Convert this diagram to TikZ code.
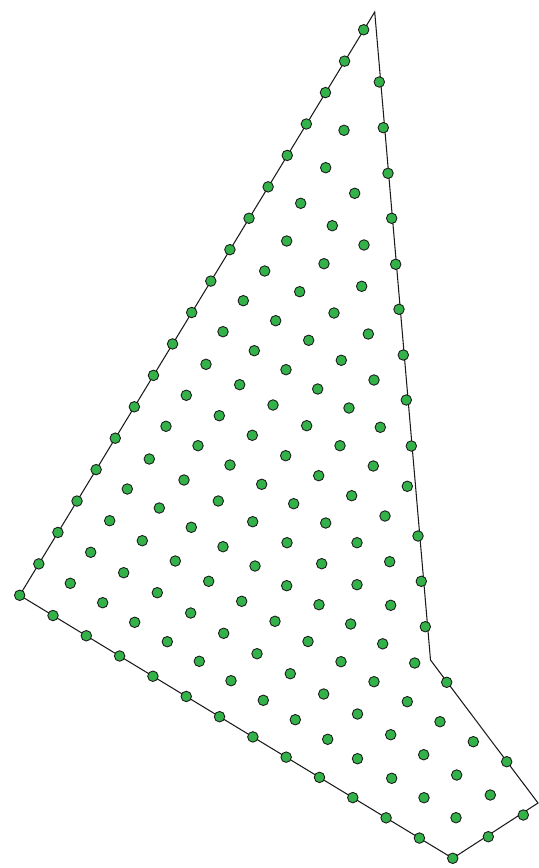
\documentclass[tikz,border=0pt]{standalone}
\usetikzlibrary{calc}
\definecolor{meshgreen}{RGB}{52,178,74}
\definecolor{meshline}{HTML}{1A1A1A}
\begin{document}
\begin{tikzpicture}[
    x=0.02cm, y=-0.02cm,
    dot/.style={
      circle, draw=meshline, line width=0.5pt,
      fill=meshgreen, inner sep=0pt, minimum size=0.21cm,
    },
    hull/.style={
      draw=meshline, line width=0.6pt, line join=miter,
    },
  ]
  \useasboundingbox (0,0) rectangle (538,868);
  \coordinate (top) at (374.7,12);
  \coordinate (kink) at (430.5,660);
  \coordinate (east) at (538,803);
  \coordinate (south) at (452.7,858.3);
  \coordinate (west) at (19.7,595.3);

  \draw[hull] (top) -- (kink) -- (east) -- (south) -- (west) -- cycle;

  \foreach \i in {0,...,18}
    \node[dot] (l\i) at ({19.7+19.11*\i},{595.3-31.42*\i}) {};
  \foreach \i in {1,...,13}
    \node[dot] (b\i) at ({19.7+33.31*\i},{595.3+20.23*\i}) {};
  \node[dot] (se1) at (488.3,836.7) {};
  \node[dot] (se2) at (523.3,815) {};
  \node[dot] (ne1) at (446.7,682.3) {};
  \node[dot] (ne2) at (506.7,761.7) {};
  \foreach \x/\y [count=\n] in {379.3/82, 383.3/127.7, 388/173.3, 391.7/218.3,
      395.7/264.3, 399/309.3, 403.3/355, 406.3/400, 411.3/446,
      418/536, 421.3/581.3, 425.3/626.7}
    \node[dot] (r\n) at (\x,\y) {};

  \foreach \x/\y [count=\n] in {344/130.3, 325.7/167.7, 354.7/193.3, 300.7/203.3,
      264.7/271, 243.3/300.7, 275.7/320.7, 223/331.7, 254.3/350.7, 206/364.3,
      239.7/384.7, 186.3/395.3, 273/405, 219.3/415.7, 166/426.3, 252.3/435.3,
      332.3/225.7, 286.7/241, 364/245, 324/263.7, 299.7/291.7, 361.7/286.3,
      334/313, 308.7/340.3, 368.3/334, 341.3/360.3, 286/369.7, 374/380,
      317.7/389, 349/408, 306.7/425.7, 380.3/427.3,
      149.3/459, 127.3/489, 159.3/508, 109.7/520.7, 142.3/540.7, 90.7/552.3,
      175.3/561, 123.7/572.7, 70.3/583.3, 157.3/592.7, 102.7/602.7,
      134.7/622.3, 167.3/641.7,
      198/445.7, 340/445.7, 285.7/455.7, 230/465, 184/480, 318.7/475.7,
      261.7/484.3, 351.7/495.7, 218.3/501, 293.7/503.7, 191.3/527.3,
      252.7/521.7, 325.7/523, 357/542.7, 287/542.7, 223/546.7, 255/566,
      321.7/563.7, 208.7/581.3, 286.7/585.7, 357/584.7, 241.7/601.3,
      319/604.7, 190.7/613, 275/621.3, 350.7/624, 223.7/633.3, 308/641.5,
      373.3/466, 407.3/486.3, 385/516, 389.7/561.7, 390.7/605.3, 382.7/643.8,
      199.3/661.3, 257/653.7, 341/661.7, 231/680.7, 290.3/673.7, 263.3/700.3,
      323.7/694, 357.5/714, 295.3/719.7, 327.7/739.3, 357.5/758.7,
      414.7/663, 374/681.7, 407.3/701.7, 440/721.7, 390.7/734.7, 473.3/741.7,
      423.7/754.7, 391.7/778.3, 456.7/775, 424/797.7, 490.3/795, 456/817.7}
    \node[dot] (m\n) at (\x,\y) {};
\end{tikzpicture}
\end{document}
